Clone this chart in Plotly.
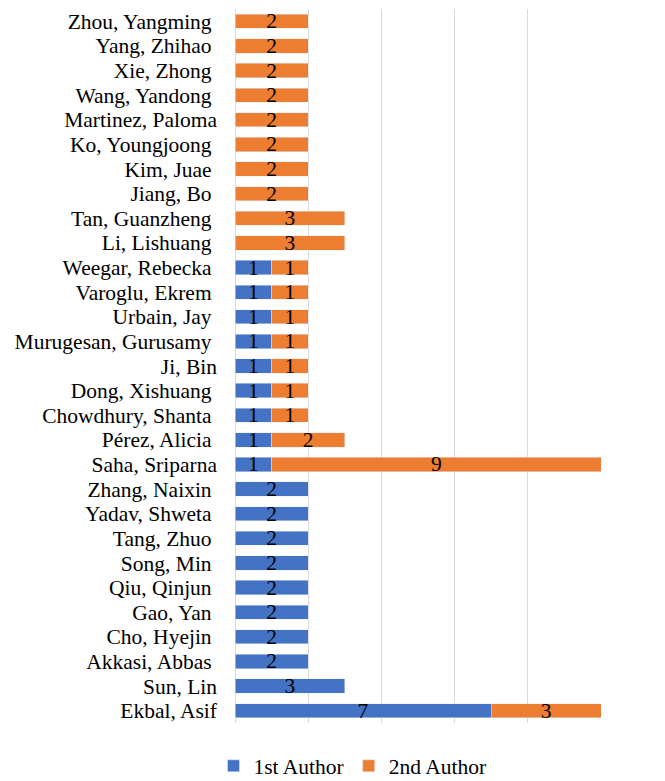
import plotly.graph_objects as go

# Authors listed bottom-to-top as they appear on the category axis
# (several source labels carry a trailing space)
authors = [
    "Ekbal, Asif", "Sun, Lin", "Akkasi, Abbas ", "Cho, Hyejin ", "Gao, Yan ",
    "Qiu, Qinjun ", "Song, Min ", "Tang, Zhuo ", "Yadav, Shweta ", "Zhang, Naixin ",
    "Saha, Sriparna", "Pérez, Alicia ", "Chowdhury, Shanta ", "Dong, Xishuang ",
    "Ji, Bin", "Murugesan, Gurusamy ", "Urbain, Jay ", "Varoglu, Ekrem ",
    "Weegar, Rebecka ", "Li, Lishuang ", "Tan, Guanzheng ", "Jiang, Bo ",
    "Kim, Juae ", "Ko, Youngjoong ", "Martinez, Paloma", "Wang, Yandong ",
    "Xie, Zhong ", "Yang, Zhihao ", "Zhou, Yangming ",
]

first_author = [7, 3, 2, 2, 2, 2, 2, 2, 2, 2,
                1, 1, 1, 1, 1, 1, 1, 1, 1,
                None, None, None, None, None, None, None, None, None, None]

second_author = [3, None, None, None, None, None, None, None, None, None,
                 9, 2, 1, 1, 1, 1, 1, 1, 1,
                 3, 3, 2, 2, 2, 2, 2, 2, 2, 2]

FONT = "Liberation Serif"
SIZE = 21.5
BLUE = "#4472C4"
ORANGE = "#ED7D31"


def labels(values):
    return ["" if v is None else str(v) for v in values]


# keep trailing spaces visible in SVG text
tick_text = [a[:-1] + "\u00a0" if a.endswith(" ") else a for a in authors]

fig = go.Figure()
fig.add_trace(go.Bar(
    y=authors, x=first_author, name="1st Author", orientation="h",
    marker=dict(color=BLUE),
    text=labels(first_author), textposition="inside",
    insidetextanchor="middle", textangle=0,
    textfont=dict(family=FONT, size=SIZE, color="black"),
))
fig.add_trace(go.Bar(
    y=authors, x=second_author, name="2nd Author", orientation="h",
    marker=dict(color=ORANGE),
    text=labels(second_author), textposition="inside",
    insidetextanchor="middle", textangle=0,
    textfont=dict(family=FONT, size=SIZE, color="black"),
))

fig.update_layout(
    barmode="stack",
    bargap=0.42,
    width=665, height=781,
    margin=dict(l=235, r=64, t=9, b=58, autoexpand=False),
    paper_bgcolor="white", plot_bgcolor="white",
    font=dict(family=FONT, size=SIZE, color="black"),
    uniformtext=dict(minsize=SIZE, mode="show"),
    xaxis=dict(
        range=[0, 10], dtick=2, showticklabels=False,
        showgrid=True, gridcolor="#D9D9D9", gridwidth=1,
        zeroline=True, zerolinecolor="#D9D9D9", zerolinewidth=1,
        showline=False, ticks="",
    ),
    yaxis=dict(
        type="category", categoryorder="array", categoryarray=authors,
        tickmode="array", tickvals=authors, ticktext=tick_text,
        showgrid=False, zeroline=False, showline=False, ticks="",
        ticklabelstandoff=17,
        tickfont=dict(family=FONT, size=SIZE, color="black"),
    ),
    legend=dict(
        orientation="h", x=0.321, xanchor="center", y=-0.060, yanchor="middle",
        font=dict(family=FONT, size=SIZE, color="black"),
        itemwidth=30, traceorder="normal",
    ),
)

fig.write_html("out.html")
